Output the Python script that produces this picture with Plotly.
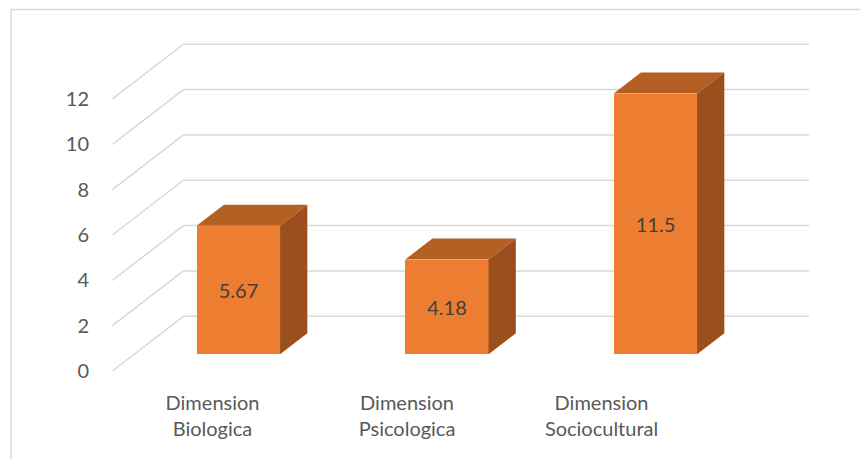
import plotly.graph_objects as go

# ---- data ----
categories = ["Dimension<br>Biologica", "Dimension<br>Psicologica", "Dimension<br>Sociocultural"]
values = [5.67, 4.18, 11.5]
value_labels = ["5.67", "4.18", "11.5"]
y_ticks = [0, 2, 4, 6, 8, 10, 12]

# ---- oblique projection settings (front edge = depth 0, back wall = depth 1) ----
DX = 0.3405   # x shift (category units) per unit depth
DY = 2.413    # y shift (value units) per unit depth
D_FRONT = 0.305
D_BACK = D_FRONT + 0.384
BAR_W = 0.40
FLOOR_L, FLOOR_R = -0.5, 2.5

OFF = 8  # page body margin of the browser
W, H = 868 - OFF, 459 - OFF
ML, MR, MT, MB = 96 - OFF, 0, 9 - OFF, 71
PX_PER_X = 208.5
PX_PER_Y = 22.67
X0_PX = 216.7 - OFF   # pixel of x=0 at depth 0
Y0_PX = 371.0 - OFF   # pixel of v=0 at depth 0

xr = [(ML - X0_PX) / PX_PER_X, (W - MR - X0_PX) / PX_PER_X]
yr = [(Y0_PX - (H - MB)) / PX_PER_Y, (Y0_PX - MT) / PX_PER_Y]

FRONT = "#ED7D31"
TOP = "#B45F23"
SIDE = "#9A4F1C"
GRID = "#D9D9D9"


def proj(x, v, d):
    return x + d * DX, v + d * DY


fig = go.Figure()

# front faces as bars
xs = [i + D_FRONT * DX for i in range(len(values))]
base = D_FRONT * DY
fig.add_trace(go.Bar(
    x=xs, y=values, base=[base] * len(values), width=BAR_W,
    marker=dict(color=FRONT, line=dict(width=0)),
    text=value_labels, textposition="inside", insidetextanchor="middle",
    textfont=dict(family="Lato", size=20, color="#404040"),
    textangle=0, hoverinfo="skip", showlegend=False,
))

# top and side faces
for i, v in enumerate(values):
    xl, xrr = i - BAR_W / 2, i + BAR_W / 2
    top = [proj(xl, v, D_FRONT), proj(xrr, v, D_FRONT), proj(xrr, v, D_BACK), proj(xl, v, D_BACK)]
    side = [proj(xrr, 0, D_FRONT), proj(xrr, v, D_FRONT), proj(xrr, v, D_BACK), proj(xrr, 0, D_BACK)]
    for pts, col in ((top, TOP), (side, SIDE)):
        fig.add_trace(go.Scatter(
            x=[p[0] for p in pts] + [pts[0][0]], y=[p[1] for p in pts] + [pts[0][1]],
            mode="lines", fill="toself", fillcolor=col, line=dict(width=0, color=col),
            hoverinfo="skip", showlegend=False,
        ))

# gridlines: diagonal on the side wall + horizontal on the back wall
shapes = []
for t in y_ticks:
    x1, y1 = proj(FLOOR_L, t, 1)
    x2, _ = proj(FLOOR_R, t, 1)
    shapes.append(dict(type="line", xref="x", yref="y", x0=FLOOR_L, y0=t, x1=x1, y1=y1,
                       line=dict(color=GRID, width=1.5), layer="below"))
    shapes.append(dict(type="line", xref="x", yref="y", x0=x1, y0=y1, x1=x2, y1=y1,
                       line=dict(color=GRID, width=1.5), layer="below"))

# chart border (left and top visible)
pw = W - ML - MR
ph = H - MT - MB
shapes.append(dict(type="rect", xref="paper", yref="paper",
                   x0=(11 - OFF - ML) / pw, x1=(W + 5 - ML) / pw,
                   y0=-(MB + 5) / ph, y1=1 + (MT - (9.5 - OFF)) / ph,
                   line=dict(color=GRID, width=1.5), layer="below"))

LABEL_STEP = 0.9329
LABEL_OFF = -0.02
fig.update_layout(
    width=W, height=H,
    margin=dict(l=ML, r=MR, t=MT, b=MB),
    paper_bgcolor="white", plot_bgcolor="white",
    shapes=shapes,
    bargap=0,
    xaxis=dict(range=xr, showgrid=False, zeroline=False, showline=False,
               tickmode="array",
               tickvals=[LABEL_OFF + i * LABEL_STEP for i in range(len(categories))],
               ticktext=categories, ticks="", ticklabelstandoff=1,
               tickfont=dict(family="Lato", size=20, color="#595959")),
    yaxis=dict(range=yr, showgrid=False, zeroline=False, showline=False,
               tickmode="array", tickvals=y_ticks, ticktext=[str(t) for t in y_ticks],
               ticks="", ticklabelstandoff=6,
               tickfont=dict(family="Lato", size=20, color="#595959")),
)

fig.write_html("out.html")
